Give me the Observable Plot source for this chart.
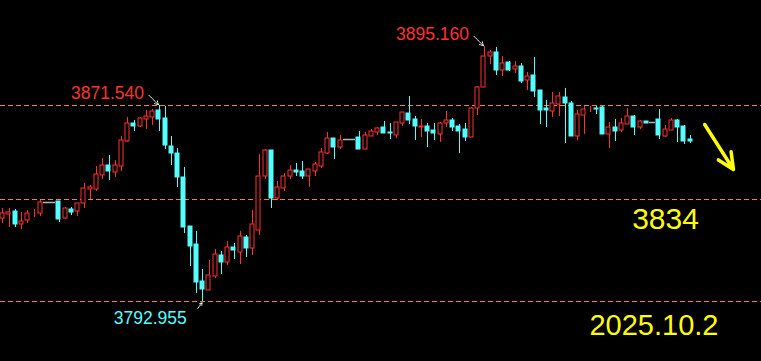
<!DOCTYPE html>
<html><head><meta charset="utf-8">
<script src="https://cdn.jsdelivr.net/npm/d3@7"></script>
<script src="https://cdn.jsdelivr.net/npm/@observablehq/plot@0.6"></script>
<style>html,body{margin:0;padding:0;background:#000;overflow:hidden} #chart svg{display:block}</style>
</head><body><div id="chart"></div>
<script>
// OHLC values (one entry per candle, left to right)
const openP = [3826.0,3828.0,3829.1,3824.0,3825.2,3827.8,3828.0,3832.6,3832.6,3833.1,3826.0,3829.8,3828.8,3832.0,3837.9,3838.0,3843.6,3847.4,3844.7,3847.2,3857.2,3864.3,3863.2,3866.0,3866.8,3869.5,3866.3,3855.1,3852.3,3842.7,3823.1,3815.9,3801.1,3797.5,3803.1,3811.5,3808.7,3814.7,3812.7,3818.7,3814.3,3821.5,3843.1,3853.5,3834.3,3838.3,3843.1,3845.5,3845.1,3843.1,3845.1,3847.1,3852.4,3858.3,3854.7,3857.9,3857.9,3858.7,3853.9,3859.1,3860.7,3862.7,3860.7,3859.5,3864.3,3868.3,3865.9,3862.7,3863.1,3861.5,3859.9,3864.3,3865.5,3863.1,3861.9,3858.7,3870.3,3878.7,3891.1,3892.7,3885.5,3888.7,3886.0,3887.1,3881.5,3883.5,3877.5,3870.3,3869.1,3871.9,3874.7,3872.3,3859.1,3867.6,3869.8,3870.3,3870.7,3859.9,3862.7,3861.5,3863.9,3867.1,3862.7,3865.1,3864.6,3865.9,3859.1,3861.5,3865.5,3863.1,3857.9];
const highP = [3830.3,3830.2,3829.9,3828.6,3829.5,3829.9,3833.5,3832.6,3832.6,3833.1,3830.8,3830.7,3832.4,3840.3,3839.5,3847.1,3850.3,3851.5,3849.5,3859.1,3866.7,3865.5,3866.7,3869.5,3869.9,3871.54,3871.0,3859.1,3854.2,3846.7,3823.1,3821.1,3805.9,3809.5,3813.9,3813.1,3817.1,3816.3,3821.1,3819.5,3829.5,3851.9,3853.9,3853.5,3841.1,3844.3,3847.5,3848.3,3849.1,3845.9,3848.7,3854.3,3860.7,3858.3,3859.5,3857.9,3857.9,3861.1,3860.7,3861.9,3862.7,3865.1,3864.3,3864.7,3868.7,3875.1,3867.1,3865.9,3864.3,3864.3,3864.7,3869.1,3866.3,3863.9,3864.3,3870.7,3879.1,3895.16,3893.5,3894.7,3891.1,3889.1,3889.1,3888.3,3884.7,3890.7,3877.5,3873.5,3876.7,3876.7,3878.3,3873.1,3869.5,3871.1,3871.1,3871.1,3871.1,3864.7,3865.9,3866.3,3870.3,3867.5,3865.5,3865.1,3864.6,3869.9,3863.5,3866.3,3865.9,3863.5,3859.5];
const lowP = [3824.3,3822.8,3822.8,3821.9,3824.4,3826.8,3827.2,3832.6,3832.6,3824.8,3825.8,3827.5,3827.2,3830.3,3833.8,3837.2,3842.0,3841.5,3842.8,3845.1,3856.8,3861.2,3862.6,3861.9,3863.5,3861.2,3853.9,3847.5,3838.7,3820.3,3807.1,3796.3,3792.955,3797.5,3802.3,3803.9,3807.5,3809.9,3807.9,3810.7,3811.5,3819.5,3841.9,3830.3,3833.5,3837.1,3841.9,3843.1,3841.9,3838.7,3843.1,3846.3,3851.9,3849.9,3853.9,3857.9,3857.9,3853.9,3853.9,3859.1,3859.5,3860.3,3857.9,3858.3,3863.1,3863.9,3857.5,3858.7,3854.7,3857.5,3856.7,3862.7,3861.1,3852.3,3857.1,3858.7,3867.5,3878.7,3887.9,3883.5,3883.1,3885.1,3884.3,3880.3,3877.5,3874.7,3863.9,3862.7,3866.7,3867.1,3856.3,3859.1,3857.5,3859.9,3868.7,3867.9,3859.9,3854.3,3857.1,3860.7,3863.9,3859.5,3861.9,3864.3,3864.6,3857.9,3858.7,3861.5,3856.7,3855.9,3856.3];
const closeP = [3828.2,3828.8,3823.9,3825.0,3828.2,3828.0,3832.6,3832.6,3832.6,3826.0,3830.2,3828.7,3832.2,3838.2,3838.6,3843.8,3847.4,3844.8,3847.4,3857.5,3864.3,3863.2,3866.2,3867.1,3869.1,3865.9,3855.5,3852.3,3842.7,3822.7,3815.1,3800.7,3797.9,3803.5,3811.9,3808.7,3814.7,3813.5,3819.1,3814.3,3823.9,3843.1,3853.5,3834.3,3838.7,3843.1,3845.5,3844.7,3843.1,3845.9,3847.9,3852.7,3858.3,3854.7,3857.5,3857.9,3857.9,3853.9,3859.5,3861.1,3862.3,3860.3,3860.3,3864.7,3868.7,3865.5,3863.1,3863.1,3861.1,3860.3,3864.3,3865.5,3862.7,3861.1,3858.7,3870.3,3878.7,3891.1,3892.7,3885.5,3888.3,3885.5,3887.1,3881.1,3883.1,3877.2,3869.5,3869.5,3872.3,3875.1,3872.3,3859.1,3867.9,3869.9,3870.0,3869.9,3859.9,3862.7,3861.1,3864.3,3867.1,3862.7,3865.1,3864.3,3864.6,3859.5,3861.9,3865.5,3862.7,3857.1,3857.1];

// horizontal dashed levels
const levels = [3871.5, 3834, 3793];
// annotated candles (index into the arrays above)
const peakIdx = [25, 77];
const troughIdx = [32];
// trend arrow (candle index, price)
const trendArrow = [{x1: 112.3, y1: 3863.9, x2: 116.9, y2: 3845.9}];
const targetText = "3834";
const dateText = "2025.10.2";

const RED = "#ff3131", CYAN = "#55ffff", GRAY = "#b4b4b4", ORANGE = "#f08a1e", YELLOW = "#ffff00";

const candles = openP.map((o, i) => ({i, open: o, high: highP[i], low: lowP[i], close: closeP[i]}));
const col = d => d.close > d.open ? RED : d.close < d.open ? CYAN : GRAY;
const moving = candles.filter(d => d.high !== d.low);
const flat = candles.filter(d => d.high === d.low);
const peaks = peakIdx.map(i => candles[i]);
const troughs = troughIdx.map(i => candles[i]);
const HW = 0.33;

const chart = Plot.plot({
  width: 761, height: 361,
  margin: 0,
  style: {background: "#000", fontFamily: "'Liberation Sans', Arial, sans-serif", overflow: "visible"},
  x: {type: "linear", domain: [-0.368, 121.39], axis: null},
  y: {domain: [3769.1, 3913.5], axis: null},
  marks: [
    Plot.ruleY(levels, {stroke: ORANGE, strokeDasharray: "5,3", strokeWidth: 1}),
    Plot.ruleX(moving, {x: "i", y1: "low", y2: "high", stroke: col, strokeWidth: 1}),
    Plot.rect(moving, {
      x1: d => d.i - HW, x2: d => d.i + HW,
      y1: "open", y2: "close",
      fill: d => d.close > d.open ? "#000" : col(d),
      stroke: col, strokeWidth: 1
    }),
    Plot.ruleY(flat, {y: "close", x1: d => d.i - HW - 0.12, x2: d => d.i + HW + 0.12, stroke: GRAY, strokeWidth: 1.5}),
    Plot.text(peaks, {x: "i", y: "high", text: d => d.high.toFixed(3), textAnchor: "end", dx: -15, dy: -12, fill: RED, fontSize: 17.5}),
    Plot.arrow(peaks, {x1: d => d.i - 1.6, y1: d => d.high + 4, x2: "i", y2: "high", stroke: "#fff", strokeWidth: 1, strokeDasharray: "1.5,1", headLength: 6, insetEnd: 1}),
    Plot.text(troughs, {x: "i", y: "low", text: d => d.low.toFixed(3), textAnchor: "end", dx: -16, dy: 17, fill: CYAN, fontSize: 17.5}),
    Plot.arrow(troughs, {x1: d => d.i - 0.8, y1: d => d.low - 2.6, x2: "i", y2: "low", stroke: "#fff", strokeWidth: 1, strokeDasharray: "1.5,1", headLength: 6, insetEnd: 1}),
    Plot.arrow(trendArrow, {x1: "x1", y1: "y1", x2: "x2", y2: "y2", stroke: YELLOW, strokeWidth: 3.5, headLength: 12, headAngle: 50}),
    Plot.text([3834], {y: d => d, text: [targetText], frameAnchor: "right", textAnchor: "middle", dx: -96, dy: 20, fill: YELLOW, fontSize: 30}),
    Plot.text([dateText], {text: d => d, frameAnchor: "bottom-right", textAnchor: "end", dx: -43, dy: -27, fill: YELLOW, fontSize: 29})
  ]
});

// snap candle geometry to the pixel grid for crisp 1px strokes
const svg = d3.select(chart);
svg.selectAll("g[aria-label='rule'] line").each(function() {
  const s = d3.select(this);
  for (const a of ["x1", "x2", "y1", "y2"]) {
    const v = s.attr(a);
    if (v != null) s.attr(a, Math.round(+v));
  }
});
svg.selectAll("g[aria-label='rect'] rect").each(function() {
  const s = d3.select(this);
  const x = Math.round(+s.attr("x")), y = Math.round(+s.attr("y"));
  const w = Math.max(1, Math.round(+s.attr("width"))), h = Math.round(+s.attr("height"));
  s.attr("x", x).attr("y", y).attr("width", w).attr("height", h);
});
document.getElementById("chart").appendChild(chart);
</script>
</body></html>
